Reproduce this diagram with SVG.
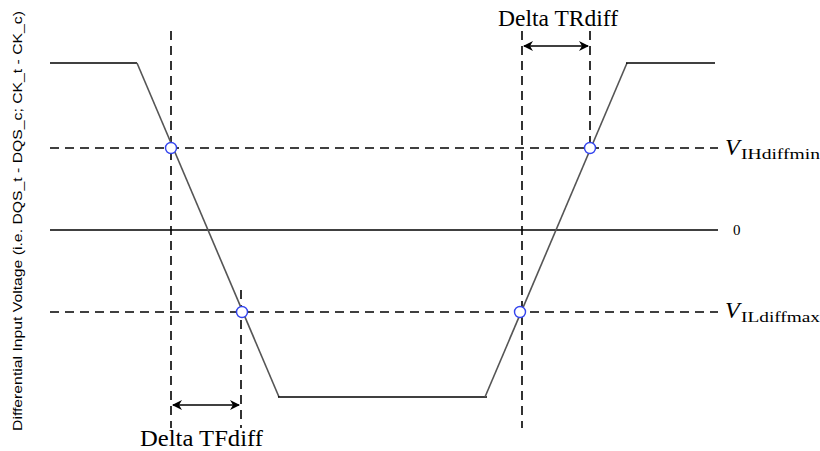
<svg xmlns="http://www.w3.org/2000/svg" width="820" height="451" viewBox="0 0 820 451">
<defs>
<style>
.sig{stroke:#000;stroke-width:1.6;fill:none}
.slope{stroke:#555;stroke-width:1.6;fill:none}
.dash{stroke:#000;stroke-width:1.6;stroke-dasharray:9 6;fill:none}
.arr{stroke:#000;stroke-width:1.6;fill:none;marker-start:url(#ah);marker-end:url(#ah)}
.pt{fill:#fff;stroke:#3344ee;stroke-width:1.4}
.lbl{font-family:"Liberation Serif",serif;fill:#000}
.ax{font-family:"Liberation Sans",Arial,sans-serif;fill:#000}
</style>
<marker id="ah" viewBox="0 0 10 10" refX="9" refY="5" markerWidth="10" markerHeight="10" markerUnits="userSpaceOnUse" orient="auto-start-reverse">
<path d="M0,0 L10,5 L0,10 L3,5 Z" fill="#000"/>
</marker>
</defs>
<rect width="820" height="451" fill="#fff"/>
<g id="connectors">
<line class="sig" x1="50" y1="230" x2="718" y2="230"/>
<line class="dash" x1="50" y1="148" x2="718" y2="148"/>
<line class="dash" x1="50" y1="312" x2="718" y2="312"/>
<line class="dash" x1="171" y1="31" x2="171" y2="428"/>
<line class="dash" x1="241" y1="290" x2="241" y2="428"/>
<line class="dash" x1="522" y1="31" x2="522" y2="428"/>
<line class="dash" x1="590" y1="31" x2="590" y2="146"/>
<line class="arr" x1="173" y1="405" x2="239" y2="405"/>
<line class="arr" x1="524" y1="46" x2="588" y2="46"/>
</g>
<g id="waveform">
<polyline class="sig" points="50,63 137,63"/>
<line class="slope" x1="137" y1="63" x2="279" y2="397"/>
<polyline class="sig" points="278,397 487,397"/>
<line class="slope" x1="485" y1="397" x2="627" y2="63"/>
<polyline class="sig" points="626,63 715,63"/>
</g>
<g id="points">
<circle class="pt" cx="171" cy="148" r="5.5"/>
<circle class="pt" cx="242" cy="312" r="5.5"/>
<circle class="pt" cx="520" cy="312" r="5.5"/>
<circle class="pt" cx="590" cy="148" r="5.5"/>
</g>
<g id="labels">
<text class="lbl" x="498" y="26" font-size="23" textLength="120" lengthAdjust="spacingAndGlyphs">Delta TRdiff</text>
<text class="lbl" x="140" y="446" font-size="23" textLength="123" lengthAdjust="spacingAndGlyphs">Delta TFdiff</text>
<text class="lbl" x="725" y="155" font-size="24" font-style="italic">V</text>
<text class="lbl" x="741" y="159" font-size="15" textLength="79" lengthAdjust="spacingAndGlyphs">IHdiffmin</text>
<text class="lbl" x="725" y="318" font-size="24" font-style="italic">V</text>
<text class="lbl" x="741" y="322" font-size="15" textLength="79" lengthAdjust="spacingAndGlyphs">ILdiffmax</text>
<text class="lbl" x="733" y="235" font-size="15">0</text>
<text class="ax" transform="translate(22,221) rotate(-90)" text-anchor="middle" font-size="12.5" textLength="420" lengthAdjust="spacingAndGlyphs">Differential Input Voltage (i.e. DQS_t - DQS_c; CK_t - CK_c)</text>
</g>
</svg>
